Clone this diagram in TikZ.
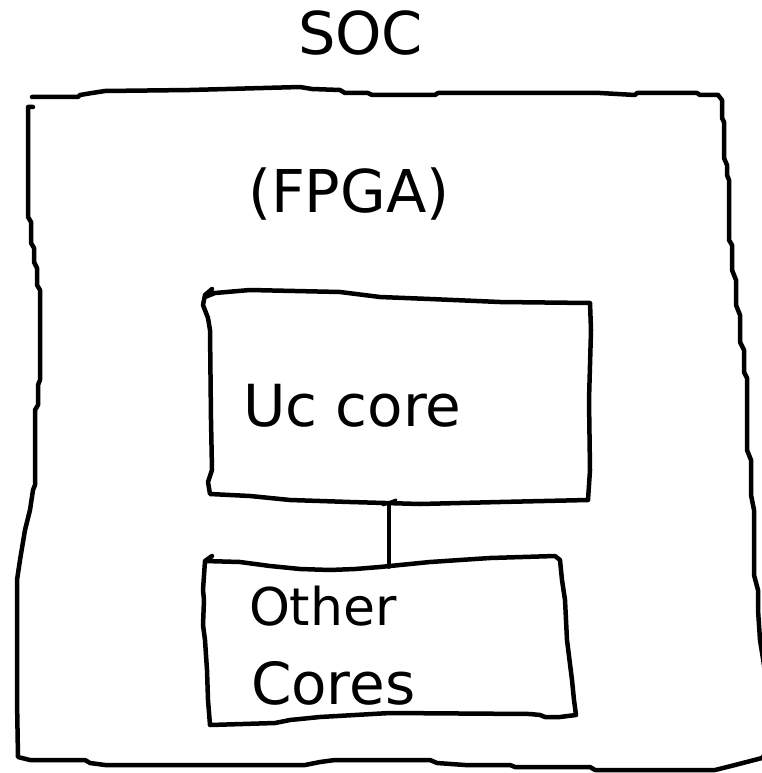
\documentclass[tikz,border=0pt]{standalone}
\usepackage{fontspec}
\setmainfont{DejaVu Sans}
\begin{document}
\begin{tikzpicture}[x=1pt,y=-1pt,
  sketch/.style={draw=black,line width=4.5pt,line join=round,line cap=round},
  wire/.style={draw=black,line width=3.8pt,line cap=round},
  lbl/.style={anchor=base west,inner sep=0pt,outer sep=0pt,text=black}]
\useasboundingbox (0,0) rectangle (762,773);
\clip (0,0) rectangle (762,773);
\fill[white] (0,0) rectangle (762,773);

% outer SOC outline, hand drawn
\path[sketch] (32,97) -- (78,97) -- (80,95) -- (92,93) -- (105,91) -- (190,90)
  -- (300,87) -- (312,89) -- (340,90) -- (345,93) -- (368,93) -- (372,95)
  -- (435,95) -- (438,93) -- (600,93) -- (635,95) -- (637,93) -- (697,93)
  -- (700,95) -- (718,95);
\path[sketch] (33,107) -- (28,107) -- (28,217) -- (31,222) -- (31,243) -- (34,248)
  -- (34,262) -- (37,268) -- (37,285) -- (40,290) -- (40,380) -- (38,385)
  -- (38,405) -- (35,410) -- (35,485) -- (33,490) -- (30,510) -- (25,530)
  -- (20,560) -- (17,580) -- (17,700) -- (18,757) -- (30,760) -- (85,760)
  -- (90,763) -- (105,765) -- (305,765) -- (320,762) -- (335,760) -- (430,760)
  -- (437,763) -- (465,765) -- (510,765) -- (515,767) -- (590,767)
  -- (595,770) -- (715,770) -- (735,765) -- (762,758) -- (772,745);
\path[sketch] (718,95) -- (722,100) -- (722,118) -- (724,122) -- (724,158)
  -- (727,165) -- (727,175) -- (729,180) -- (729,240) -- (732,245) -- (732,270)
  -- (736,280) -- (736,305) -- (740,315) -- (740,342) -- (744,350) -- (744,372)
  -- (747,378) -- (747,450) -- (751,460) -- (751,495) -- (754,510) -- (754,575)
  -- (758,590) -- (758,610) -- (760,640) -- (764,665) -- (772,745);

% Uc core outline
\path[sketch] (212,289) -- (205,295) -- (203,305) -- (208,318) -- (210,330)
  -- (211,420) -- (212,470) -- (208,482) -- (210,494) -- (250,496)
  -- (290,500) -- (350,502) -- (420,504) -- (500,502) -- (588,500)
  -- (590,470) -- (589,400) -- (591,330) -- (590,303) -- (500,302)
  -- (430,299) -- (380,297) -- (340,292) -- (250,290) -- (215,293) -- (205,297);

% Other Cores outline
\path[sketch] (212,556) -- (205,561) -- (240,562) -- (270,566) -- (300,569)
  -- (330,570) -- (355,569) -- (380,567) -- (400,565) -- (430,562) -- (460,560)
  -- (490,558) -- (555,556) -- (560,560) -- (562,580) -- (565,600)
  -- (567,640) -- (572,680) -- (574,700) -- (576,715) -- (560,717)
  -- (545,717) -- (540,715) -- (530,714) -- (390,713) -- (320,717)
  -- (290,720) -- (275,723) -- (210,725) -- (208,700) -- (207,670)
  -- (205,640) -- (203,625) -- (204,600) -- (203,590) -- (205,561);

% link between the two cores
\coordinate (ucbottom) at (389,503);
\coordinate (othertop) at (389,567);
\path[wire] (ucbottom) -- (othertop);
\path[wire,line width=3pt] (383,505) -- (396,500);

% labels
\node[lbl,font=\fontsize{59}{64}\selectfont] (soc) at (298,55) {SOC};
\node[lbl,font=\fontsize{59}{64}\selectfont] (fpga) at (248,212) {(FPGA)};
\node[lbl,font=\fontsize{58}{64}\selectfont] (uc) at (243,426) {Uc core};
\node[lbl,font=\fontsize{52}{60}\selectfont] (other) at (249,625) {Other};
\node[lbl,font=\fontsize{58}{64}\selectfont] (cores) at (251,704) {Cores};
\end{tikzpicture}
\end{document}
